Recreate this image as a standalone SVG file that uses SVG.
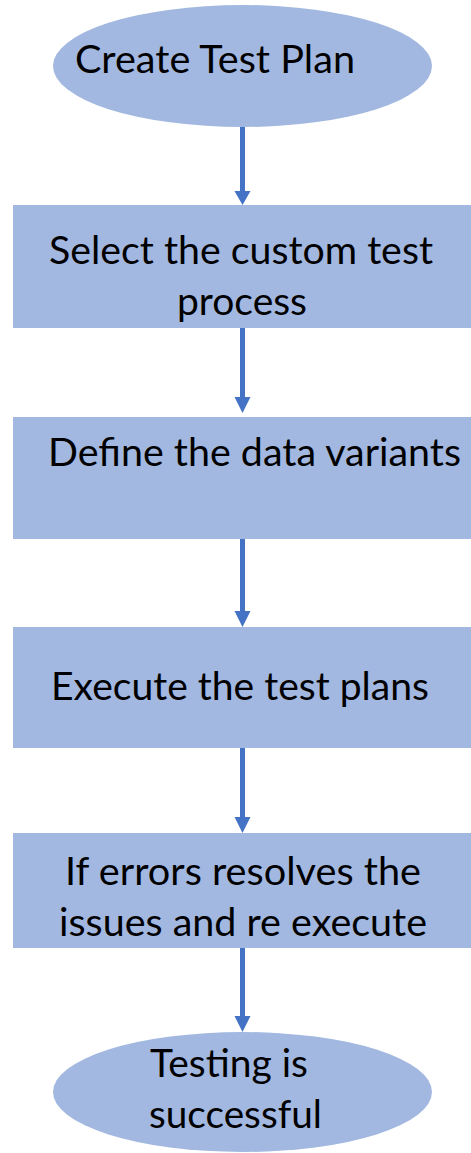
<svg xmlns="http://www.w3.org/2000/svg" width="471" height="1153" viewBox="0 0 471 1153">
<style>
.shape{fill:#A2B8E0;stroke:none}
.lbl{font-family:Lato,"Open Sans","Liberation Sans",sans-serif;font-size:38px;fill:#000}
.conn line{stroke:#4472C4;stroke-width:5}
.conn polygon{fill:#4472C4}
</style>
<rect width="471" height="1153" fill="#fff"/>
<g id="connectors" class="conn">
<line x1="242.5" y1="127" x2="242.5" y2="192"/><polygon points="234.5,191 250.5,191 242.5,205"/>
<line x1="242.5" y1="328" x2="242.5" y2="398"/><polygon points="234.5,397 250.5,397 242.5,413"/>
<line x1="242.5" y1="539" x2="242.5" y2="612"/><polygon points="234.5,611 250.5,611 242.5,627"/>
<line x1="242.5" y1="748" x2="242.5" y2="818"/><polygon points="234.5,817 250.5,817 242.5,833"/>
<line x1="242.5" y1="948" x2="242.5" y2="1017"/><polygon points="234.5,1016 250.5,1016 242.5,1032"/>
</g>
<g id="start">
<ellipse class="shape" cx="242.5" cy="66" rx="189.5" ry="61"/>
<text class="lbl" x="75" y="73" textLength="280" lengthAdjust="spacingAndGlyphs">Create Test Plan</text>
</g>
<g id="select">
<rect class="shape" x="13" y="205" width="458" height="123"/>
<text class="lbl" x="49" y="264" textLength="384" lengthAdjust="spacingAndGlyphs">Select the custom test</text>
<text class="lbl" x="177" y="315" textLength="130" lengthAdjust="spacingAndGlyphs">process</text>
</g>
<g id="define">
<rect class="shape" x="13" y="417" width="458" height="122"/>
<text class="lbl" x="48" y="466" textLength="413" lengthAdjust="spacingAndGlyphs">Define the data variants</text>
</g>
<g id="execute">
<rect class="shape" x="13" y="627" width="458" height="121"/>
<text class="lbl" x="51" y="700" textLength="378" lengthAdjust="spacingAndGlyphs">Execute the test plans</text>
</g>
<g id="resolve">
<rect class="shape" x="13" y="833" width="458" height="115"/>
<text class="lbl" x="65" y="885" textLength="356" lengthAdjust="spacingAndGlyphs">If errors resolves the</text>
<text class="lbl" x="59" y="936" textLength="368" lengthAdjust="spacingAndGlyphs">issues and re execute</text>
</g>
<g id="end">
<ellipse class="shape" cx="242.5" cy="1092" rx="189.5" ry="60"/>
<text class="lbl" x="150" y="1077" textLength="158" lengthAdjust="spacingAndGlyphs">Testing is</text>
<text class="lbl" x="149" y="1128" textLength="173" lengthAdjust="spacingAndGlyphs">successful</text>
</g>
</svg>
